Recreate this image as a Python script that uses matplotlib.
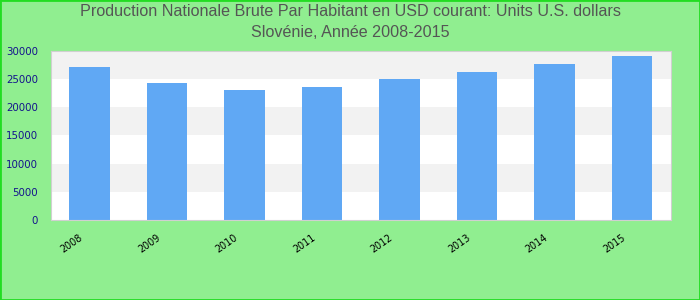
import matplotlib
matplotlib.use('Agg')
import matplotlib.pyplot as plt
from matplotlib.patches import Rectangle

years = ['2008', '2009', '2010', '2011', '2012', '2013', '2014', '2015']
values = [27150, 24200, 22950, 23650, 24900, 26300, 27700, 29100]
yticks = [0, 5000, 10000, 15000, 20000, 25000, 30000]
title = ('Production Nationale Brute Par Habitant en USD courant: Units U.S. dollars\n'
         'Slovénie, Année 2008-2015')


def main():
    fig = plt.figure(figsize=(7, 3), dpi=100, facecolor='#90ee90')
    fig.patches.append(Rectangle((0, 0), 1, 1, transform=fig.transFigure,
                                 fill=False, edgecolor='#22dd22', linewidth=2))
    ax = fig.add_axes([0.0724, 0.2667, 0.8857, 0.5643])
    ax.set_facecolor('white')

    # alternating bands
    for i in range(len(yticks) - 1):
        if (len(yticks) - 2 - i) % 2 == 0:
            ax.axhspan(yticks[i], yticks[i + 1], color='#f2f2f2', zorder=0, lw=0)

    x = list(range(len(years)))
    ax.bar(x, values, width=0.52, color='#60a8f4', zorder=2)

    ax.set_xlim(-0.5, len(years) - 0.5)
    ax.set_ylim(0, 30000)
    ax.set_yticks(yticks)
    ax.set_yticklabels([str(v) for v in yticks], color='#14148c', fontsize=7.4,
                       family='DejaVu Sans')
    ax.set_xticks(x)
    ax.set_xticklabels([])
    # year labels, nudged left of the bar centre like the original
    for xi, yr in zip(x, years):
        ax.annotate(yr, (xi, 0), xycoords=('data', 'axes fraction'),
                    xytext=(-7.5, -9.3), textcoords='offset points',
                    rotation=35, ha='right', va='top', rotation_mode='anchor',
                    fontsize=6.9, family='DejaVu Sans', color='black')
    ax.tick_params(axis='both', length=0)
    ax.tick_params(axis='y', pad=9)
    for s in ax.spines.values():
        s.set_color('#d0d0d0')

    fig.text(0.5, 0.985, title, ha='center', va='top', fontsize=11.6,
             color='#555555', family='Liberation Sans', linespacing=1.45)

    fig.savefig('out.png', dpi=100, facecolor=fig.get_facecolor())


if __name__ == '__main__':
    main()
